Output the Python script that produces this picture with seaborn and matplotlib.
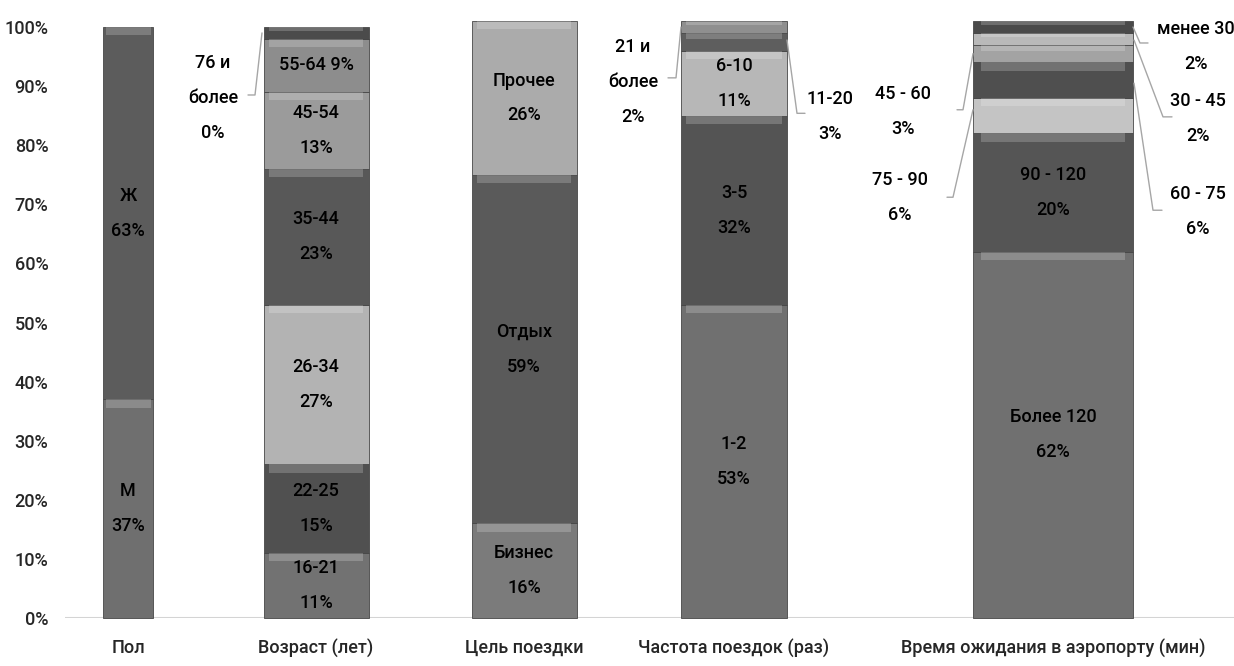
import numpy as np
import matplotlib
matplotlib.use("Agg")
import matplotlib.pyplot as plt
import seaborn as sns

# Категории (столбцы)
categories = ["Пол", "Возраст (лет)", "Цель поездки", "Частота поездок (раз)",
              "Время ожидания в аэропорту (мин)"]

# Данные по каждому столбцу (снизу вверх)
gender_labels = ["М", "Ж"]
gender_values = [37, 63]

age_labels = ["16-21", "22-25", "26-34", "35-44", "45-54", "55-64", "76 и\nболее", "65-75"]
age_values = [11, 15, 27, 23, 13, 9, 0, 2]

purpose_labels = ["Бизнес", "Отдых", "Прочее"]
purpose_values = [16, 59, 26]

freq_labels = ["1-2", "3-5", "6-10", "11-20", "21 и\nболее"]
freq_values = [53, 32, 11, 3, 2]

wait_labels = ["Более 120", "90 - 120", "75 - 90", "60 - 75", "45 - 60", "30 - 45", "менее 30"]
wait_values = [62, 20, 6, 6, 3, 2, 2]

# Оттенки серого для сегментов
gender_colors = ["#6f6f6f", "#5c5c5c"]
age_colors = ["#727272", "#505050", "#b3b3b3", "#585858", "#9b9b9b", "#8d8d8d", "#808080", "#4b4b4b"]
purpose_colors = ["#7b7b7b", "#5a5a5a", "#ababab"]
freq_colors = ["#707070", "#545454", "#b7b7b7", "#5e5e5e", "#8f8f8f"]
wait_colors = ["#707070", "#555555", "#c4c4c4", "#4f4f4f", "#a3a3a3", "#b9b9b9", "#4a4a4a"]

# Раскладка столбцов (в пикселях исходной картинки)
bar_x = [128, 316, 524, 734, 1053]
bar_w = [50, 105, 105, 106, 160]

# подписи снаружи: (текст центр x, центр y, точки выноски)
outside = {
    ("Возраст (лет)", "76 и\nболее"): (213, 88.0, [(248, 88.5), (255, 88.5), (262, 99.0)]),
    ("Частота поездок (раз)", "21 и\nболее"): (633, 90.7, [(668, 91.4), (676, 91.4), (681, 100.0)]),
    ("Частота поездок (раз)", "11-20"): (830, 84.9, [(805, 85.4), (797, 85.4), (787, 97.8)]),
    ("Время ожидания в аэропорту (мин)", "менее 30"): (1196, 96.7, [(1148, 97.3), (1140, 97.3), (1133, 100.0)]),
    ("Время ожидания в аэропорту (мин)", "30 - 45"): (1198, 84.5, [(1172, 84.8), (1163, 84.8), (1134, 97.8)]),
    ("Время ожидания в аэропорту (мин)", "60 - 75"): (1198, 68.8, [(1162, 69.0), (1153, 69.0), (1134, 90.5)]),
    ("Время ожидания в аэропорту (мин)", "45 - 60"): (903, 85.7, [(957, 86.0), (963, 86.0), (973, 95.5)]),
    ("Время ожидания в аэропорту (мин)", "75 - 90"): (900, 71.2, [(947, 71.2), (953, 71.2), (973, 86.0)]),
}
hidden = {("Возраст (лет)", "65-75")}
one_line = {("Возраст (лет)", "55-64")}

sns.set_theme(style="white")
plt.rcParams["font.family"] = ["Roboto", "DejaVu Sans"]

fig = plt.figure(figsize=(12.34, 6.66), dpi=100)
ax = fig.add_axes([65 / 1234, 48 / 666, 1 - 65 / 1234, 608.7 / 666])

groups = [
    (gender_labels, gender_values, gender_colors),
    (age_labels, age_values, age_colors),
    (purpose_labels, purpose_values, purpose_colors),
    (freq_labels, freq_values, freq_colors),
    (wait_labels, wait_values, wait_colors),
]

fs = 13
fw = "medium"
ls = 2.2
for cat, x, w, (labels, values, colors) in zip(categories, bar_x, bar_w, groups):
    values = np.array(values, dtype=float)
    bottoms = np.concatenate([[0], np.cumsum(values)[:-1]])
    ax.bar([x] * len(values), values, width=w, bottom=bottoms, color=colors,
           edgecolor="#474747", linewidth=0.6, clip_on=False, zorder=2)
    # блик сверху каждого сегмента
    hl = np.minimum(1.4, values * 0.35)
    ax.bar([x] * len(values), hl, width=w * 0.9, bottom=bottoms + values - hl,
           color="white", alpha=0.2, linewidth=0, clip_on=False, zorder=3)
    for lab, v, b in zip(labels, values, bottoms):
        key = (cat, lab)
        txt = f"{lab}\n{int(v)}%"
        if key in hidden:
            continue
        if key in outside:
            tx, ty, pts = outside[key]
            ax.text(tx, ty, txt, ha="center", va="center", fontsize=fs, fontweight=fw,
                    linespacing=ls, color="black", zorder=5)
            px, py = zip(*pts)
            ax.plot(px, py, color="#a6a6a6", lw=1, clip_on=False, zorder=4)
        elif key in one_line:
            ax.text(x, b + v / 2, f"{lab} {int(v)}%", ha="center", va="center",
                    fontsize=fs, fontweight=fw, color="black", zorder=5)
        else:
            ax.text(x, b + v / 2, txt, ha="center", va="center", fontsize=fs,
                    fontweight=fw, linespacing=ls, color="black", zorder=5)

ax.set_xlim(65, 1234)
ax.set_ylim(0, 103)
ax.axhline(0, color="#d4d4d4", lw=1.5, zorder=1)
for s in ax.spines.values():
    s.set_visible(False)

ax.set_yticks(range(0, 101, 10))
ax.set_yticklabels([f"{t}%" for t in range(0, 101, 10)], fontsize=fs, fontweight=fw)
ax.set_xticks(bar_x)
ax.set_xticklabels(categories, fontsize=fs, fontweight=fw)
ax.tick_params(axis="y", length=0, pad=12)
ax.tick_params(axis="x", length=0, pad=15)
ax.grid(False)

fig.savefig("out.png", dpi=100)
